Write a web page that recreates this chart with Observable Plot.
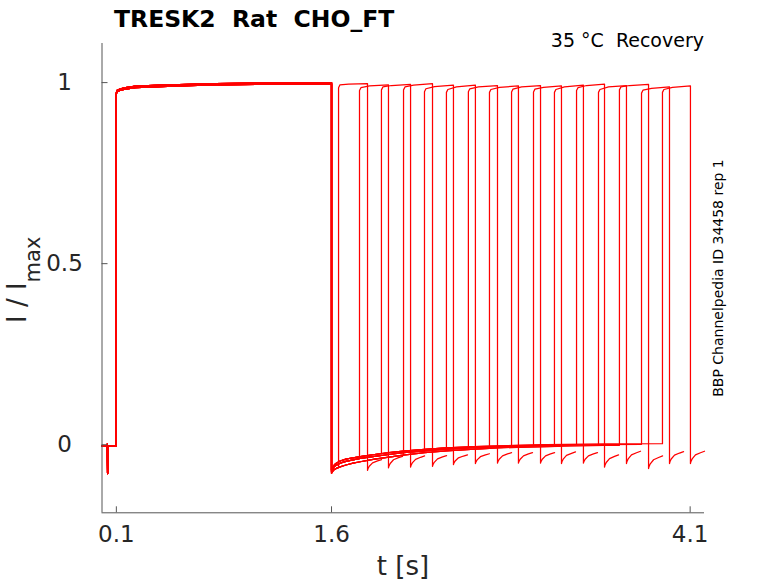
<!DOCTYPE html>
<html><head><meta charset="utf-8">
<script src="https://cdn.jsdelivr.net/npm/d3@7"></script>
<script src="https://cdn.jsdelivr.net/npm/@observablehq/plot@0.6"></script>
<style>html,body{margin:0;padding:0;background:#fff;} svg{font-family:"DejaVu Sans";}</style>
</head><body><div id="chart"></div>
<script>
// ---- texts / ticks ----
const titleText = "TRESK2  Rat  CHO_FT";
const conditionText = "35 °C  Recovery";
const sideText = "BBP Channelpedia ID 34458 rep 1";
const xLabelText = "t [s]";
const xTicks = [0.1, 1.6, 4.1];
const yTicks = [0, 0.5, 1];
const xDomain = [0, 4.2];
const yDomain = [-0.188, 1.108];

// ---- sweeps ----
const sweepIds = [1,2,3,4,5,6,7,8,9,10,11,12,13,14,15,16];

// holding + conditioning pulse (two slightly different traces)
const preT      = [0, 0.036, 0.037, 0.039, 0.041, 0.1, 0.1, 0.105, 0.129, 0.164, 0.234, 0.408, 0.603, 0.791, 1.2, 1.6];
const preUpperV = [-0.003, -0.003, 0.002, -0.080, -0.003, -0.003, 0.972, 0.979, 0.983, 0.986, 0.990, 0.993, 0.995, 0.997, 0.999, 1.0];
const preLowerV = [-0.004, -0.004, 0.001, -0.079, -0.004, -0.004, 0.968, 0.975, 0.979, 0.982, 0.986, 0.989, 0.992, 0.994, 0.996, 0.997];
const preVariant = [0,1,0,1,0,1,0,1,0,1,0,1,0,1,0,1];

// tail currents after conditioning pulse (three read traces)
const tailT      = [1.6, 1.605, 1.615, 1.63, 1.66, 1.70, 1.75, 1.80, 1.9, 2.0, 2.1, 2.25, 2.4, 2.6, 2.8, 3.1, 3.5, 3.95];
const tailUpper  = [-0.070, -0.064, -0.058, -0.052, -0.045, -0.040, -0.036, -0.033, -0.027, -0.022, -0.018, -0.013, -0.009, -0.005, -0.003, 0.000, 0.002, 0.003];
const tailMiddle = [-0.074, -0.068, -0.062, -0.057, -0.051, -0.046, -0.042, -0.038, -0.032, -0.027, -0.022, -0.017, -0.012, -0.008, -0.005, -0.002, 0.000, 0.002];
const tailLower  = [-0.079, -0.075, -0.070, -0.066, -0.061, -0.056, -0.051, -0.047, -0.040, -0.034, -0.029, -0.022, -0.017, -0.012, -0.008, -0.005, -0.002, 0.000];
const tailVariant = [2,1,0,2,1,0,1,2,0,1,2,0,1,2,1,0];

// test pulses
const pulseOn  = [1.649, 1.795, 1.948, 2.102, 2.248, 2.401, 2.554, 2.701, 2.855, 3.008, 3.154, 3.308, 3.461, 3.607, 3.761, 3.907];
const pulseOff = [1.851, 1.997, 2.151, 2.304, 2.450, 2.603, 2.757, 2.903, 3.057, 3.203, 3.356, 3.503, 3.656, 3.810, 3.956, 4.102];
const pulseStartV = [0.994, 0.986, 0.988, 0.988, 0.983, 0.981, 0.983, 0.981, 0.982, 0.982, 0.981, 0.986, 0.981, 0.988, 0.979, 0.981];
const pulseMidV   = [0.996, 0.991, 0.992, 0.993, 0.989, 0.988, 0.988, 0.987, 0.988, 0.987, 0.988, 0.992, 0.988, 0.992, 0.984, 0.987];
const pulseEndV   = [0.997, 0.994, 0.995, 0.997, 0.993, 0.993, 0.992, 0.991, 0.992, 0.991, 0.993, 0.996, 0.992, 0.995, 0.988, 0.991];

// tail after test pulse ("hooks")
const hookBottom = [-0.071, -0.064, -0.062, -0.060, -0.055, -0.052, -0.051, -0.051, -0.051, -0.052, -0.051, -0.062, -0.052, -0.066, -0.052, -0.052];
const hookEnd    = [-0.041, -0.032, -0.031, -0.030, -0.028, -0.025, -0.022, -0.022, -0.022, -0.020, -0.022, -0.028, -0.018, -0.031, -0.019, -0.018];
const hookDt     = [0, 0.003, 0.012, 0.035, 0.07, 0.098];
const hookFrac   = [0, 0.15, 0.38, 0.7, 0.88, 1];

// ---- build table ----
const tails = [tailUpper, tailMiddle, tailLower];
const rows = [];
sweepIds.forEach((id, i) => {
  const pre = preVariant[i] === 0 ? preUpperV : preLowerV;
  preT.forEach((t, k) => rows.push({sweep: id, t, v: pre[k]}));
  const tail = tails[tailVariant[i]];
  const on = pulseOn[i];
  tailT.forEach((t, k) => { if (t < on) rows.push({sweep: id, t, v: tail[k]}); });
  const j = d3.bisectLeft(tailT, on);
  const a = (on - tailT[j-1]) / (tailT[j] - tailT[j-1]);
  rows.push({sweep: id, t: on, v: tail[j-1] + a * (tail[j] - tail[j-1])});
  rows.push({sweep: id, t: on, v: pulseStartV[i] - 0.008});
  rows.push({sweep: id, t: on + 0.01, v: pulseStartV[i]});
  rows.push({sweep: id, t: on + 0.07, v: pulseMidV[i]});
  rows.push({sweep: id, t: pulseOff[i], v: pulseEndV[i]});
  hookDt.forEach((dt, k) => rows.push({sweep: id, t: pulseOff[i] + dt, v: hookBottom[i] + hookFrac[k] * (hookEnd[i] - hookBottom[i])}));
});

const axisColor = "#555";
const textColor = "#262626";

const chart = Plot.plot({
  width: 778, height: 583,
  marginLeft: 101.5, marginRight: 74, marginTop: 43, marginBottom: 70.7,
  style: {fontFamily: "DejaVu Sans", background: "white", overflow: "visible"},
  x: {domain: xDomain},
  y: {domain: yDomain},
  marks: [
    Plot.line(rows, {x: "t", y: "v", z: "sweep", stroke: "#ff0000", strokeWidth: 1.25}),
    Plot.ruleX([xDomain[0]], {stroke: axisColor}),
    Plot.ruleY([yDomain[0]], {stroke: axisColor}),
    Plot.axisX({ticks: xTicks, tickSize: -6, tickFormat: () => "", stroke: axisColor, label: null}),
    Plot.axisY({ticks: yTicks, tickSize: -6, tickFormat: () => "", stroke: axisColor, label: null}),
    Plot.axisX({ticks: xTicks, tickSize: 0, tickPadding: 13, fontSize: 23, fill: textColor, tickFormat: d => String(d), label: null}),
    Plot.axisY({ticks: yTicks, tickSize: 0, tickPadding: 37.5, textAnchor: "middle", fontSize: 23, fill: textColor, tickFormat: d => String(d), label: null})
  ]
});
document.getElementById("chart").appendChild(chart);

const svg = d3.select(chart);
svg.append("text").attr("x", 114).attr("y", 27).attr("font-size", 23.5).attr("font-weight", "bold")
  .attr("text-anchor", "start").attr("fill", "#000").style("white-space", "pre").text(titleText);
svg.append("text").attr("x", 704).attr("y", 47).attr("font-size", 19).attr("text-anchor", "end")
  .attr("fill", "#000").style("white-space", "pre").text(conditionText);
svg.append("text").attr("transform", "translate(723,278) rotate(-90)").attr("font-size", 14)
  .attr("text-anchor", "middle").attr("fill", "#000").text(sideText);
svg.append("text").attr("x", 403).attr("y", 575).attr("font-size", 26).attr("text-anchor", "middle")
  .attr("fill", textColor).text(xLabelText);
const yl = svg.append("text").attr("transform", "translate(25.7,323) rotate(-90)").attr("font-size", 26)
  .attr("text-anchor", "start").attr("fill", textColor).style("white-space", "pre");
yl.append("tspan").text("I / I");
yl.append("tspan").attr("font-size", 21).attr("dy", 14).text("max");
</script></body></html>
